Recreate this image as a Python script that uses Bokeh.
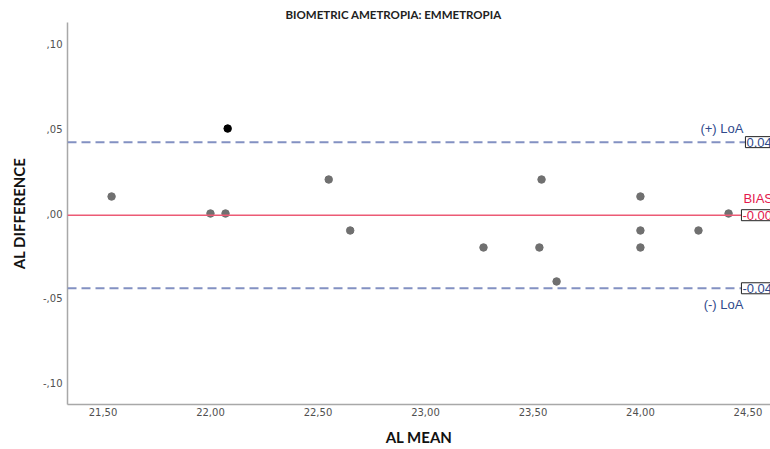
from bokeh.plotting import figure
from bokeh.models import Label, Span, FixedTicker, Range1d, Title
from bokeh.embed import file_html
from bokeh.resources import INLINE

# data
mean_vals = [21.54, 22.00, 22.07, 22.55, 22.65, 23.27, 23.53, 23.54, 23.61, 24.00, 24.00, 24.00, 24.27, 24.41]
diff_vals = [0.01, 0.00, 0.00, 0.02, -0.01, -0.02, -0.02, 0.02, -0.04, 0.01, -0.01, -0.02, -0.01, 0.00]
emph_mean = [22.08]
emph_diff = [0.05]
loa_upper = 0.042
loa_lower = -0.044
bias = -0.001
x_ticks = [21.5, 22.0, 22.5, 23.0, 23.5, 24.0, 24.5]
x_tick_labels = ["21,50", "22,00", "22,50", "23,00", "23,50", "24,00", "24,50"]
y_ticks = [-0.10, -0.05, 0.0, 0.05, 0.10]
y_tick_labels = ["-,10", "-,05", ",00", ",05", ",10"]

BLUE = "#2f4a8c"
RED = "#e3184d"

p = figure(width=770, height=449, output_backend="svg", toolbar_location=None,
           x_range=Range1d(21.335, 24.605), y_range=Range1d(-0.1124, 0.1124),
           min_border_left=67, min_border_right=0, min_border_top=22, min_border_bottom=45)
p.outline_line_color = None
p.xgrid.visible = False
p.ygrid.visible = False

title = Title(text="BIOMETRIC AMETROPIA: EMMETROPIA", text_font="Lato",
              text_font_size="11.5px", text_font_style="bold", text_color="#222222",
              align="left", offset=218, standoff=3)
p.add_layout(title, "above")

for ax in (p.xaxis[0], p.yaxis[0]):
    ax.axis_line_color = "#a8a8a8"
    ax.axis_line_width = 1.5
    ax.major_tick_line_color = None
    ax.minor_tick_line_color = None
    ax.major_tick_out = 0
    ax.major_tick_in = 0
    ax.minor_tick_out = 0
    ax.minor_tick_in = 0
    ax.major_label_text_font = "DejaVu Sans"
    ax.major_label_text_font_size = "10px"
    ax.major_label_text_color = "#505050"
    ax.axis_label_text_font = "Lato"
    ax.axis_label_text_font_style = "bold"
    ax.axis_label_text_color = "#111111"
    ax.axis_label_text_font_size = "15px"

p.xaxis.ticker = FixedTicker(ticks=x_ticks)
p.xaxis.major_label_overrides = dict(zip(x_ticks, x_tick_labels))
p.yaxis.ticker = FixedTicker(ticks=y_ticks)
p.yaxis.major_label_overrides = dict(zip(y_ticks, y_tick_labels))
p.xaxis.major_label_standoff = 3
p.yaxis.major_label_standoff = 5
p.xaxis.axis_label = "AL MEAN"
p.xaxis.axis_label_standoff = 9
p.yaxis.axis_label = "AL DIFFERENCE"
p.yaxis.axis_label_standoff = 12

p.add_layout(Span(location=loa_upper, dimension="width", line_color="#8391c2",
                  line_width=2, line_dash="9 5"))
p.add_layout(Span(location=loa_lower, dimension="width", line_color="#8391c2",
                  line_width=2, line_dash="9 5"))
p.add_layout(Span(location=bias, dimension="width", line_color="#ec5a75", line_width=1.5))

p.scatter(mean_vals, diff_vals, size=7.5, color="#707070")
p.scatter(emph_mean, emph_diff, size=7.5, color="#000000")

lab_font = "Liberation Sans"
p.add_layout(Label(x=24.479, y=loa_upper, text="(+) LoA", text_color=BLUE, text_font=lab_font,
                   text_font_size="13px", text_align="right", text_baseline="bottom", y_offset=6))
p.add_layout(Label(x=24.479, y=loa_lower, text="(-) LoA", text_color=BLUE, text_font=lab_font,
                   text_font_size="13px", text_align="right", text_baseline="top", y_offset=-9))
p.add_layout(Label(x=24.479, y=bias, text="BIAS", text_color=RED, text_font=lab_font,
                   text_font_size="13px", text_align="left", text_baseline="bottom", y_offset=9))

for val, txt, col, xs in [(loa_upper, "0.042", BLUE, 24.4884), (bias, "-0.001", RED, 24.4698),
                          (loa_lower, "-0.044", BLUE, 24.4698)]:
    p.add_layout(Label(x=xs, y=val, text=txt, text_color=col, text_font=lab_font,
                       text_font_size="13px", text_align="left", text_baseline="middle",
                       border_line_color="#222222", border_line_width=1,
                       background_fill_color="white", padding=1))

open("out.html", "w").write(file_html(p, INLINE))
